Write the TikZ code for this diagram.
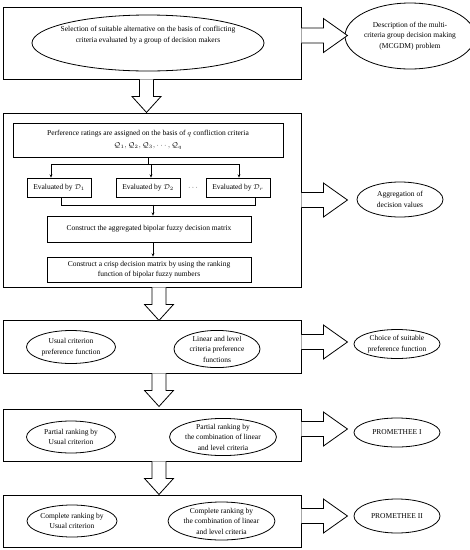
\documentclass[tikz,border=0pt]{standalone}
\usepackage{fontspec}
\setmainfont{Liberation Serif}
\usetikzlibrary{shapes.geometric,arrows.meta,calc}
\begin{document}
\begin{tikzpicture}[x=1pt,y=-1pt,
  font=\fontsize{7.5}{10.5}\selectfont,
  bigbox/.style={draw, line width=0.9pt, minimum width=298pt, inner sep=0pt},
  inbox/.style={draw, line width=0.8pt, inner sep=0pt, align=center},
  ell/.style={draw, ellipse, line width=0.8pt, inner sep=0pt, align=center},
  txt/.style={inner sep=0pt, align=center},
  arr/.style={line width=0.6pt, -{Stealth[length=3.2pt,width=2.8pt]}},
  thin/.style={line width=0.6pt},
  blk/.style={line width=0.8pt, fill=white, line join=miter},
  rarr/.pic={\draw[blk] (0,-7.5) -- (22,-7.5) -- (22,-17) -- (46,0) -- (22,17) -- (22,7.5) -- (0,7.5);},
  darr/.pic={\draw[blk] (-7,0) -- (-7,17) -- (-14.5,17) -- (0,33) -- (14.5,17) -- (7,17) -- (7,0);}
]
\useasboundingbox (0,0) rectangle (470,550);

% ---- Box 1
\node[bigbox, minimum height=72pt] (b1) at (152,43) {};
\node[ell, minimum width=232pt, minimum height=56pt] (e1) at (148,43) {};
\node[txt] (e1t) at (148,35) {Selection of suitable alternative on the basis of conflicting\\criteria evaluated by a group of decision makers};
\node[ell, minimum width=116pt, minimum height=66pt] (r1) at (410,36) {Description of the multi-\\criteria group decision making\\(MCGDM) problem};

% ---- Box 2
\node[bigbox, minimum height=174pt] (b2) at (152,200) {};
\node[inbox, minimum width=270pt, minimum height=34pt] (pref) at (148,140)
  {Perference ratings are assigned on the basis of $q$ confliction criteria\\[1pt]
   $\mathcal{Q}_1, \mathcal{Q}_2, \mathcal{Q}_3, \cdots, \mathcal{Q}_q$};
\node[inbox, minimum width=64pt, minimum height=19pt] (ev1) at (59,187.5) {Evaluated by $\mathcal{D}_1$};
\node[inbox, minimum width=64pt, minimum height=19pt] (ev2) at (148,187.5) {Evaluated by $\mathcal{D}_2$};
\node[inbox, minimum width=64pt, minimum height=19pt] (ev3) at (238,187.5) {Evaluated by $\mathcal{D}_r$};
\node[txt] (dots) at (193,187.5) {$\cdots$};
\node[inbox, minimum width=204pt, minimum height=26pt] (agg) at (149,229) {Construct the aggregated bipolar fuzzy decision matrix};
\node[inbox, minimum width=204pt, minimum height=25pt] (crisp) at (149,269.5) {Construct a crisp decision matrix by using the ranking\\function of bipolar fuzzy numbers};
\node[ell, minimum width=86pt, minimum height=35pt] (r2) at (400,199.5) {Aggregation of\\decision values};

\draw[arr] (pref.south) -- ++(0,7) -| ($(ev1.north)+(-8,0)$);
\draw[arr] (pref.south) -- ++(0,7) -| ($(ev3.north)+(1,0)$);
\draw[arr] ($(pref.south)+(0,7)$) -| ($(ev2.north)+(3,0)$);
\draw[thin] ($(ev1.south)+(2,0)$) -- ++(0,8) -| ($(ev3.south)+(17,0)$);
\draw[arr] ($(agg.north)+(4,-11)$) -- ($(agg.north)+(4,0)$);
\draw[arr] ($(agg.south)+(4,0)$) -- ($(crisp.north)+(4,0)$);

% ---- Box 3
\node[bigbox, minimum height=53pt] (b3) at (152,346.5) {};
\node[ell, minimum width=89pt, minimum height=33pt] (u3) at (71,347) {Usual criterion\\preference function};
\node[ell, minimum width=86pt, minimum height=36pt] (l3) at (217,349) {Linear and level\\criteria preference\\functions};
\node[ell, minimum width=86pt, minimum height=29pt] (r3) at (397,344) {Choice of suitable\\preference function};

% ---- Box 4
\node[bigbox, minimum height=52pt] (b4) at (152,435) {};
\node[ell, minimum width=89pt, minimum height=32pt] (u4) at (71,437) {Partial ranking by\\Usual criterion};
\node[ell, minimum width=92pt, minimum height=36pt] (l4) at (223,437) {Partial ranking by\\the combination of linear\\and level criteria};
\node[ell, minimum width=86pt, minimum height=29pt] (r4) at (397,432.5) {PROMETHEE I};

% ---- Box 5
\node[bigbox, minimum height=52pt] (b5) at (152,521) {};
\node[ell, minimum width=90pt, minimum height=32pt] (u5) at (72,521) {Complete ranking by\\Usual criterion};
\node[ell, minimum width=97pt, minimum height=38pt] (l5) at (221.5,521) {Complete ranking by\\the combination of linear\\and level criteria};
\node[ell, minimum width=86pt, minimum height=34pt] (r5) at (397,516) {PROMETHEE II};

% ---- block arrows
\pic at ($(b1.east)+(0,-7.5)$) {rarr};
\pic at (b2.east) {rarr};
\pic at ($(b3.east)+(0,-4.5)$) {rarr};
\pic at ($(b4.east)+(0,-6)$) {rarr};
\pic at ($(b5.east)+(0,-5)$) {rarr};

\pic at ($(b1.south)+(-5.5,0)$) {darr};
\pic at ($(b2.south)+(7,0)$) {darr};
\pic at ($(b3.south)+(7,0)$) {darr};
\pic at ($(b4.south)+(7,0)$) {darr};
\end{tikzpicture}
\end{document}
